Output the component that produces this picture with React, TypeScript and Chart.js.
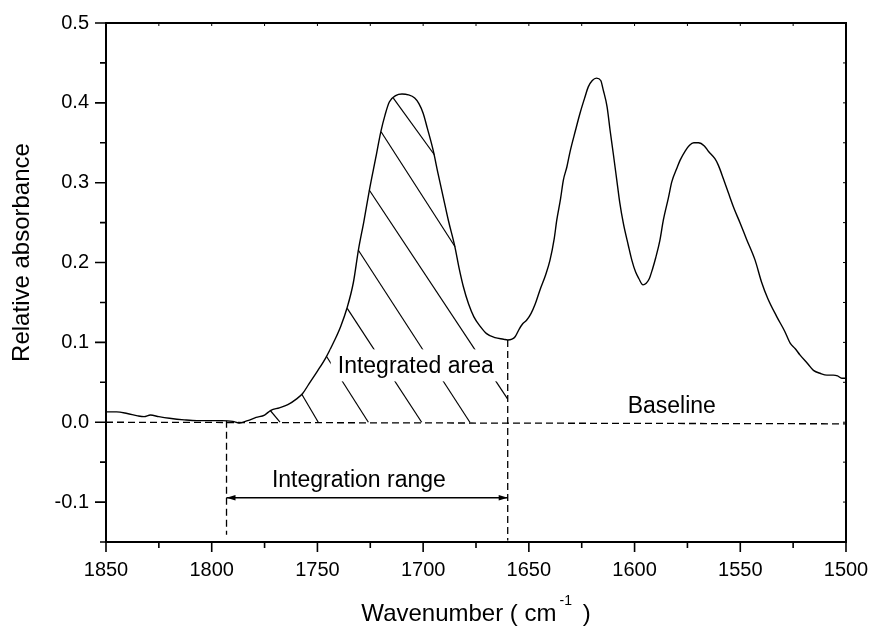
import React, { useEffect, useRef } from 'react';
import { Chart, registerables } from 'chart.js';

Chart.register(...registerables);

// ---- spectrum ----
const spectrumX = [
  1850, 1845, 1840, 1835, 1832, 1829, 1825, 1820, 1813, 1807, 1801, 1795, 1790, 1787, 1783, 1779, 1775, 1772,
  1768, 1764, 1760, 1757, 1754, 1750, 1746, 1742, 1739, 1736, 1733, 1730.6, 1728, 1725.4, 1722.5, 1720, 1718,
  1716, 1713, 1710, 1707, 1704, 1702, 1700, 1698, 1695.3, 1693, 1690.5, 1688, 1685, 1683, 1681, 1678.5, 1676,
  1673, 1670, 1666, 1662, 1660, 1658, 1656.5, 1654.5, 1653, 1651, 1649, 1647, 1644.7, 1642, 1640, 1638, 1636.8,
  1635, 1633.7, 1632, 1630.5, 1628, 1625.8, 1623.5, 1621.9, 1620, 1618, 1616, 1614.8, 1613, 1611.6, 1610,
  1608.4, 1607, 1605.3, 1603, 1601.3, 1599.5, 1598, 1596, 1594.5, 1593, 1591.5, 1590, 1588, 1586.4, 1584,
  1582.4, 1580, 1578.5, 1576, 1574, 1572, 1569.8, 1567, 1565, 1562, 1560.4, 1558, 1555.6, 1553, 1550, 1547,
  1543, 1540, 1537, 1532.7, 1529, 1526.4, 1524, 1521.7, 1518, 1515.4, 1512, 1509, 1506, 1504, 1502, 1500,
];
const spectrumY = [
  0.013, 0.013, 0.011, 0.008, 0.007, 0.009, 0.007, 0.005, 0.003, 0.002, 0.002, 0.002, 0.001, -0.001, 0.002, 0.006, 0.009, 0.015,
  0.018, 0.022, 0.029, 0.036, 0.048, 0.064, 0.081, 0.102, 0.12, 0.143, 0.175, 0.216, 0.252, 0.291, 0.33, 0.364, 0.385,
  0.401, 0.409, 0.411, 0.41, 0.406, 0.399, 0.387, 0.368, 0.341, 0.312, 0.282, 0.252, 0.22, 0.193, 0.17, 0.148, 0.132,
  0.12, 0.111, 0.106, 0.104, 0.103, 0.104, 0.107, 0.117, 0.123, 0.128, 0.136, 0.148, 0.166, 0.185, 0.203, 0.23, 0.253,
  0.28, 0.303, 0.32, 0.339, 0.365, 0.387, 0.407, 0.42, 0.428, 0.431, 0.428, 0.416, 0.395, 0.366, 0.335,
  0.303, 0.275, 0.249, 0.222, 0.203, 0.188, 0.18, 0.172, 0.174, 0.18, 0.192, 0.206, 0.228, 0.253, 0.281,
  0.301, 0.318, 0.328, 0.34, 0.347, 0.35, 0.35, 0.346, 0.339, 0.33, 0.322, 0.305, 0.287, 0.268, 0.249, 0.229,
  0.203, 0.176, 0.155, 0.132, 0.114, 0.099, 0.092, 0.084, 0.073, 0.065, 0.061, 0.059, 0.059, 0.058, 0.055, 0.055,
];

// ---- baseline and integration range ----
const baselineX = [1850, 1500];
const baselineY = [0.0, -0.002];
const rangeStartX = [1793, 1793];
const rangeStartY = [0.002, -0.141];
const rangeEndX = [1660, 1660];
const rangeEndY = [0.103, -0.148];
const arrowX = [1793, 1660];
const arrowY = [-0.0945, -0.0945];

// ---- hatch lines of the integrated area ----
const hatchX1 = [1772.4, 1757.4, 1745.6, 1735.9, 1730.7, 1725.5, 1719.9, 1714.1];
const hatchY1 = [0.015, 0.035, 0.082, 0.1426, 0.2157, 0.2908, 0.3638, 0.406];
const hatchX2 = [1767.7, 1749.6, 1725.9, 1700.7, 1677.9, 1660, 1684.9, 1694.7];
const hatchY2 = [0.0, 0.0, 0.0, 0.0, 0.0, 0.029, 0.2198, 0.3350];

// ---- annotations ----
const noteTexts = ['Integrated area', 'Integration range', 'Baseline'];
const noteX = [1703.5, 1730.4, 1582.4];
const noteY = [0.0612, -0.0808, 0.0111];
const noteBoxed = [true, false, false];

// ---- ticks ----
const xMajorTicks = [1850, 1800, 1750, 1700, 1650, 1600, 1550, 1500];
const xMinorTicks = [1825, 1775, 1725, 1675, 1625, 1575, 1525];
const yMajorTicks = [-0.1, 0.0, 0.1, 0.2, 0.3, 0.4, 0.5];
const yMinorTicks = [-0.15, -0.05, 0.05, 0.15, 0.25, 0.35, 0.45];

const FONT = '"Liberation Sans", Arial, Helvetica, sans-serif';

function seg(xs: number[], ys: number[]) {
  return xs.map((x, i) => ({ x, y: ys[i] }));
}

function zeroPadding(s: any) {
  s.paddingLeft = 0;
  s.paddingRight = 0;
  s.paddingTop = 0;
  s.paddingBottom = 0;
}

const decorPlugin = {
  id: 'decor',
  afterDatasetsDraw(chart: any) {
    const ctx = chart.ctx;
    const xs = chart.scales.x;
    const ys = chart.scales.y;
    ctx.save();
    // arrowheads
    const ay = ys.getPixelForValue(arrowY[0]);
    const ax0 = xs.getPixelForValue(arrowX[0]);
    const ax1 = xs.getPixelForValue(arrowX[1]);
    ctx.fillStyle = '#000';
    ctx.beginPath();
    ctx.moveTo(ax0, ay);
    ctx.lineTo(ax0 + 9, ay - 2.8);
    ctx.lineTo(ax0 + 9, ay + 2.8);
    ctx.closePath();
    ctx.fill();
    ctx.beginPath();
    ctx.moveTo(ax1, ay);
    ctx.lineTo(ax1 - 9, ay - 2.8);
    ctx.lineTo(ax1 - 9, ay + 2.8);
    ctx.closePath();
    ctx.fill();

    // annotation texts
    ctx.font = `23px ${FONT}`;
    ctx.textAlign = 'center';
    ctx.textBaseline = 'alphabetic';
    noteTexts.forEach((t, i) => {
      const px = xs.getPixelForValue(noteX[i]);
      const py = ys.getPixelForValue(noteY[i]);
      if (noteBoxed[i]) {
        const w = ctx.measureText(t).width;
        ctx.fillStyle = '#fff';
        ctx.fillRect(px - w / 2 - 7, py - 24, w + 11, 32);
      }
      ctx.fillStyle = '#000';
      ctx.fillText(t, px, py);
    });
    ctx.restore();
  },
  afterDraw(chart: any) {
    const ctx = chart.ctx;
    const xs = chart.scales.x;
    const ys = chart.scales.y;
    const { left, right, top, bottom } = chart.chartArea;
    ctx.save();
    ctx.strokeStyle = '#000';
    ctx.lineWidth = 2;
    ctx.strokeRect(left, top, right - left, bottom - top);

    ctx.lineWidth = 1.6;
    ctx.beginPath();
    xMajorTicks.forEach((v) => {
      const p = xs.getPixelForValue(v);
      ctx.moveTo(p, bottom);
      ctx.lineTo(p, bottom + 10);
    });
    xMinorTicks.forEach((v) => {
      const p = xs.getPixelForValue(v);
      ctx.moveTo(p, bottom);
      ctx.lineTo(p, bottom + 6);
    });
    yMajorTicks.forEach((v) => {
      const p = ys.getPixelForValue(v);
      ctx.moveTo(left, p);
      ctx.lineTo(left - 11, p);
    });
    yMinorTicks.forEach((v) => {
      const p = ys.getPixelForValue(v);
      ctx.moveTo(left, p);
      ctx.lineTo(left - 6, p);
    });
    ctx.stroke();

    ctx.lineWidth = 1;
    ctx.beginPath();
    [...xMajorTicks, ...xMinorTicks].forEach((v) => {
      const p = xs.getPixelForValue(v);
      ctx.moveTo(p, top);
      ctx.lineTo(p, top + 3);
    });
    [...yMajorTicks, ...yMinorTicks].forEach((v) => {
      const p = ys.getPixelForValue(v);
      ctx.moveTo(right, p);
      ctx.lineTo(right - 3, p);
    });
    ctx.stroke();

    // axis titles
    ctx.fillStyle = '#000';
    ctx.textBaseline = 'alphabetic';
    // y title
    ctx.save();
    ctx.translate(left - 77, (top + bottom) / 2 - 30);
    ctx.rotate(-Math.PI / 2);
    ctx.font = `24px ${FONT}`;
    ctx.textAlign = 'center';
    ctx.fillText('Relative absorbance', 0, 0);
    ctx.restore();

    // x title with superscript
    const mainFont = `24px ${FONT}`;
    const supFont = `14px ${FONT}`;
    const partA = 'Wavenumber ( cm';
    const partSup = '-1';
    const partB = ' )';
    ctx.font = mainFont;
    const wA = ctx.measureText(partA).width;
    const wB = ctx.measureText(partB).width;
    ctx.font = supFont;
    const wS = ctx.measureText(partSup).width;
    const gap1 = 3;
    const gap2 = 4;
    const total = wA + gap1 + wS + gap2 + wB;
    const cx = (left + right) / 2;
    const by = bottom + 79;
    let x0 = cx - total / 2;
    ctx.textAlign = 'left';
    ctx.font = mainFont;
    ctx.fillText(partA, x0, by);
    x0 += wA + gap1;
    ctx.font = supFont;
    ctx.fillText(partSup, x0, by - 16);
    x0 += wS + gap2;
    ctx.font = mainFont;
    ctx.fillText(partB, x0, by);
    ctx.restore();
  },
};

export default function App() {
  const canvasRef = useRef<HTMLCanvasElement | null>(null);

  useEffect(() => {
    if (!canvasRef.current) return;
    const black = '#000';
    const datasets: any[] = [
      {
        label: 'spectrum',
        data: seg(spectrumX, spectrumY),
        borderColor: black,
        borderWidth: 1.4,
        pointRadius: 0,
        cubicInterpolationMode: 'monotone',
        fill: false,
      },
      {
        label: 'baseline',
        data: seg(baselineX, baselineY),
        borderColor: black,
        borderWidth: 1.3,
        borderDash: [7, 4],
        pointRadius: 0,
      },
      {
        label: 'rangeStart',
        data: seg(rangeStartX, rangeStartY),
        borderColor: black,
        borderWidth: 1.3,
        borderDash: [7, 4],
        pointRadius: 0,
      },
      {
        label: 'rangeEnd',
        data: seg(rangeEndX, rangeEndY),
        borderColor: black,
        borderWidth: 1.3,
        borderDash: [7, 4],
        pointRadius: 0,
      },
      {
        label: 'arrow',
        data: seg(arrowX, arrowY),
        borderColor: black,
        borderWidth: 1.4,
        pointRadius: 0,
      },
    ];
    hatchX1.forEach((x1, i) => {
      datasets.push({
        label: 'hatch' + i,
        data: seg([x1, hatchX2[i]], [hatchY1[i], hatchY2[i]]),
        borderColor: black,
        borderWidth: 1.2,
        pointRadius: 0,
      });
    });

    const chart = new Chart(canvasRef.current, {
      type: 'line',
      data: { datasets },
      options: {
        animation: false,
        responsive: true,
        maintainAspectRatio: false,
        parsing: false as any,
        layout: { padding: { top: 23, right: 25, left: 0, bottom: 0 } },
        plugins: {
          legend: { display: false },
          tooltip: { enabled: false },
        },
        elements: { line: { tension: 0 } },
        scales: {
          x: {
            type: 'linear',
            reverse: true,
            min: 1500,
            max: 1850,
            grid: { display: false, drawTicks: false },
            border: { display: false },
            afterBuildTicks: (s: any) => {
              s.ticks = xMajorTicks.map((v) => ({ value: v }));
            },
            afterFit: (s: any) => {
              s.height = 85;
              zeroPadding(s);
            },
            ticks: {
              autoSkip: false,
              maxRotation: 0,
              padding: 16,
              color: '#000',
              font: { family: FONT, size: 20 },
              callback: (v: any) => String(v),
            },
          },
          y: {
            type: 'linear',
            min: -0.15,
            max: 0.5,
            grid: { display: false, drawTicks: false },
            border: { display: false },
            afterBuildTicks: (s: any) => {
              s.ticks = yMajorTicks.map((v) => ({ value: v }));
            },
            afterFit: (s: any) => {
              s.width = 106;
              zeroPadding(s);
            },
            ticks: {
              padding: 17,
              color: '#000',
              font: { family: FONT, size: 20 },
              callback: (v: any) => Number(v).toFixed(1),
            },
          },
        },
      },
      plugins: [decorPlugin],
    });
    return () => chart.destroy();
  }, []);

  return (
    <div style={{ position: 'fixed', left: 0, top: 0, width: 871, height: 627, background: '#fff' }}>
      <canvas ref={canvasRef} />
    </div>
  );
}
